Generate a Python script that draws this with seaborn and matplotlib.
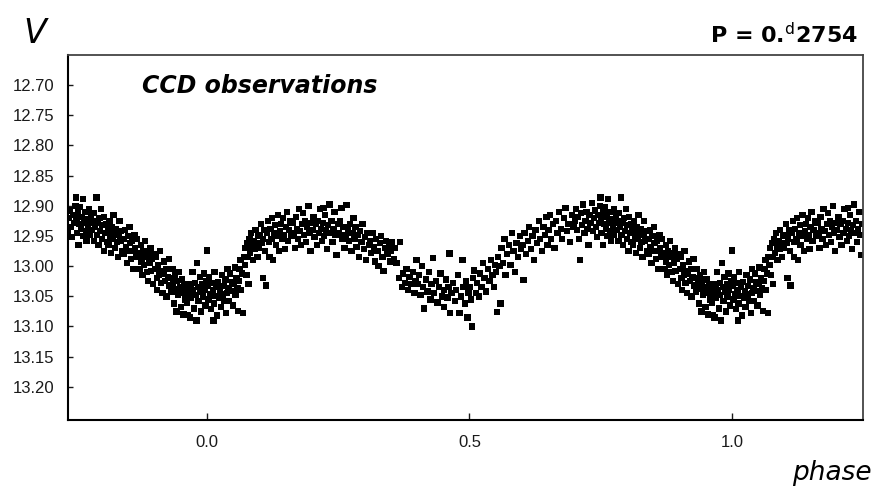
import numpy as np
import pandas as pd
import matplotlib
matplotlib.use("Agg")
import matplotlib.pyplot as plt
import seaborn as sns

# ---- data: (phase, V magnitude), phase in [0, 1) ----
seg_a = [  # phase 0.00 - 0.25
    (0.000, 12.974), (0.001, 13.032), (0.003, 13.055), (0.004, 13.018), (0.006, 13.046), (0.008, 13.071),
    (0.009, 13.028), (0.011, 13.040), (0.012, 13.090), (0.013, 13.062), (0.014, 13.010), (0.016, 13.049),
    (0.018, 13.035), (0.019, 13.082), (0.021, 13.026), (0.023, 13.052), (0.025, 13.041), (0.026, 13.068),
    (0.028, 13.015), (0.030, 13.047), (0.031, 13.033), (0.033, 13.058), (0.035, 13.022), (0.036, 13.078),
    (0.038, 13.044), (0.039, 13.005), (0.041, 13.036), (0.042, 13.058), (0.044, 13.012), (0.046, 13.041),
    (0.047, 13.027), (0.049, 13.065), (0.051, 13.030), (0.053, 13.002), (0.054, 13.048), (0.056, 13.020),
    (0.058, 13.037), (0.059, 13.074), (0.061, 13.025), (0.062, 13.005), (0.064, 12.990), (0.065, 13.040),
    (0.067, 13.012), (0.069, 13.078), (0.070, 12.985), (0.072, 12.998), (0.073, 12.970), (0.075, 13.015),
    (0.077, 12.962), (0.078, 12.985), (0.079, 13.030), (0.081, 12.955), (0.082, 12.978), (0.084, 12.945),
    (0.086, 12.968), (0.087, 12.990), (0.089, 12.958), (0.091, 12.972), (0.092, 12.940), (0.094, 12.962),
    (0.096, 12.985), (0.098, 12.950), (0.099, 12.970), (0.101, 12.948), (0.103, 12.930), (0.104, 12.962),
    (0.106, 13.020), (0.107, 12.955), (0.109, 12.940), (0.111, 12.975), (0.112, 13.032), (0.114, 12.945),
    (0.116, 12.925), (0.118, 12.960), (0.119, 12.985), (0.121, 12.938), (0.123, 12.955), (0.124, 12.920),
    (0.126, 12.990), (0.128, 12.945), (0.130, 12.932), (0.131, 12.965), (0.133, 12.950), (0.135, 12.915),
    (0.137, 12.975), (0.139, 12.942), (0.141, 12.930), (0.143, 12.955), (0.145, 12.920), (0.146, 12.948),
    (0.148, 12.972), (0.150, 12.935), (0.152, 12.910), (0.154, 12.958), (0.156, 12.940), (0.158, 12.925),
    (0.161, 12.950), (0.163, 12.928), (0.165, 12.945), (0.167, 12.970), (0.169, 12.918), (0.171, 12.938),
    (0.173, 12.955), (0.175, 12.905), (0.177, 12.942), (0.179, 12.965), (0.181, 12.930), (0.183, 12.912),
    (0.185, 12.948), (0.187, 12.925), (0.189, 12.960), (0.191, 12.935), (0.193, 12.900), (0.195, 12.945),
    (0.197, 12.975), (0.199, 12.928), (0.201, 12.940), (0.203, 12.918), (0.205, 12.952), (0.207, 12.930),
    (0.209, 12.965), (0.211, 12.925), (0.213, 12.945), (0.215, 12.905), (0.217, 12.938), (0.219, 12.958),
    (0.221, 12.928), (0.222, 12.904), (0.223, 12.950), (0.225, 12.915), (0.227, 12.940), (0.229, 12.972),
    (0.231, 12.932), (0.233, 12.898), (0.235, 12.945), (0.237, 12.925), (0.239, 12.960), (0.241, 12.938),
    (0.243, 12.910), (0.245, 12.948), (0.247, 12.982), (0.249, 12.930),
]
seg_b = [  # phase 0.25 - 0.50
    (0.251, 12.945), (0.253, 12.925), (0.256, 12.904), (0.258, 12.955), (0.260, 12.935), (0.262, 12.970),
    (0.264, 12.948), (0.266, 12.899), (0.268, 12.940), (0.270, 12.958), (0.272, 12.930), (0.275, 12.975),
    (0.277, 12.945), (0.279, 12.920), (0.281, 12.955), (0.283, 12.935), (0.285, 12.968), (0.287, 12.948),
    (0.290, 12.985), (0.292, 12.942), (0.294, 12.960), (0.296, 12.930), (0.299, 12.972), (0.301, 12.952),
    (0.303, 12.990), (0.306, 12.945), (0.308, 12.965), (0.311, 12.958), (0.313, 12.978), (0.315, 12.945),
    (0.318, 12.968), (0.320, 12.992), (0.322, 12.955), (0.325, 12.975), (0.327, 13.000), (0.329, 12.962),
    (0.332, 12.950), (0.334, 12.985), (0.336, 13.008), (0.339, 12.970), (0.341, 12.958), (0.344, 12.980),
    (0.347, 12.965), (0.349, 12.992), (0.351, 12.975), (0.353, 12.960), (0.356, 12.988), (0.358, 12.970),
    (0.361, 12.995), (0.366, 13.020), (0.368, 12.960), (0.371, 13.035), (0.374, 13.012), (0.377, 13.028),
    (0.380, 13.005), (0.383, 13.040), (0.386, 13.018), (0.389, 13.030), (0.392, 13.010), (0.395, 13.045),
    (0.397, 13.025), (0.399, 12.990), (0.401, 13.030), (0.404, 13.015), (0.407, 13.048), (0.410, 13.000),
    (0.412, 13.035), (0.414, 13.070), (0.417, 13.022), (0.420, 13.042), (0.423, 13.010), (0.426, 13.055),
    (0.428, 13.030), (0.430, 12.987), (0.433, 13.045), (0.436, 13.025), (0.439, 13.060), (0.442, 13.035),
    (0.445, 13.012), (0.448, 13.050), (0.451, 13.040), (0.452, 13.068), (0.455, 13.022), (0.458, 13.052),
    (0.460, 13.035), (0.462, 12.979), (0.463, 13.078), (0.466, 13.045), (0.469, 13.028), (0.472, 13.058),
    (0.475, 13.040), (0.478, 13.015), (0.481, 13.078), (0.484, 13.050), (0.487, 12.990), (0.489, 13.035),
    (0.492, 13.062), (0.494, 13.025), (0.496, 13.085), (0.498, 13.045),
]
seg_c = [  # phase 0.50 - 0.75
    (0.501, 13.035), (0.503, 13.055), (0.505, 13.100), (0.507, 13.020), (0.509, 13.007), (0.512, 13.045),
    (0.515, 13.028), (0.518, 13.050), (0.520, 13.012), (0.523, 13.035), (0.526, 12.995), (0.529, 13.020),
    (0.532, 13.042), (0.535, 13.005), (0.538, 13.025), (0.541, 12.990), (0.544, 13.015), (0.547, 13.035),
    (0.549, 12.998), (0.551, 13.010), (0.553, 13.076), (0.555, 12.985), (0.557, 13.000), (0.559, 13.062),
    (0.561, 12.970), (0.564, 12.995), (0.567, 12.955), (0.569, 13.015), (0.572, 12.980), (0.575, 12.965),
    (0.578, 12.998), (0.581, 12.945), (0.584, 12.975), (0.587, 13.010), (0.590, 12.962), (0.593, 12.985),
    (0.596, 12.950), (0.598, 12.972), (0.601, 12.965), (0.603, 13.023), (0.605, 12.945), (0.608, 12.980),
    (0.611, 12.958), (0.614, 12.935), (0.617, 12.972), (0.620, 12.950), (0.623, 12.990), (0.626, 12.940),
    (0.629, 12.962), (0.632, 12.925), (0.635, 12.955), (0.638, 12.975), (0.641, 12.935), (0.644, 12.948),
    (0.647, 12.918), (0.649, 12.965), (0.651, 12.940), (0.653, 12.915), (0.656, 12.955), (0.659, 12.930),
    (0.662, 12.970), (0.665, 12.925), (0.668, 12.945), (0.671, 12.910), (0.674, 12.938), (0.677, 12.955),
    (0.680, 12.920), (0.683, 12.904), (0.686, 12.942), (0.689, 12.930), (0.692, 12.960), (0.695, 12.915),
    (0.698, 12.935), (0.701, 12.925), (0.703, 12.905), (0.705, 12.940), (0.707, 12.918), (0.709, 12.955),
    (0.711, 12.990), (0.713, 12.912), (0.715, 12.932), (0.717, 12.898), (0.719, 12.945), (0.721, 12.925),
    (0.723, 12.910), (0.725, 12.938), (0.727, 12.965), (0.729, 12.915), (0.731, 12.928), (0.733, 12.895),
    (0.735, 12.942), (0.737, 12.920), (0.739, 12.908), (0.741, 12.935), (0.743, 12.952), (0.745, 12.915),
    (0.747, 12.928), (0.749, 12.900),
]
seg_d = [  # phase 0.75 - 1.00
    (0.750, 12.886), (0.751, 12.920), (0.752, 12.945), (0.754, 12.910), (0.755, 12.965), (0.757, 12.930),
    (0.758, 12.902), (0.760, 12.938), (0.761, 12.918), (0.763, 12.950), (0.764, 12.889), (0.766, 12.928),
    (0.767, 12.910), (0.769, 12.942), (0.770, 12.958), (0.772, 12.922), (0.773, 12.935), (0.775, 12.905),
    (0.776, 12.948), (0.778, 12.928), (0.779, 12.915), (0.781, 12.940), (0.782, 12.925), (0.784, 12.958),
    (0.785, 12.912), (0.787, 12.935), (0.789, 12.886), (0.790, 12.948), (0.792, 12.928), (0.793, 12.965),
    (0.795, 12.920), (0.796, 12.942), (0.798, 12.905), (0.800, 12.955), (0.801, 12.932), (0.803, 12.975),
    (0.804, 12.918), (0.806, 12.945), (0.808, 12.930), (0.809, 12.960), (0.811, 12.940), (0.812, 12.965),
    (0.814, 12.925), (0.815, 12.950), (0.817, 12.978), (0.819, 12.935), (0.820, 12.955), (0.822, 12.915),
    (0.823, 12.945), (0.825, 12.970), (0.827, 12.938), (0.828, 12.960), (0.830, 12.985), (0.832, 12.948),
    (0.833, 12.925), (0.835, 12.958), (0.836, 12.942), (0.838, 12.975), (0.841, 12.955), (0.842, 12.980),
    (0.844, 12.940), (0.845, 12.968), (0.847, 12.995), (0.849, 12.950), (0.850, 12.975), (0.852, 12.935),
    (0.853, 12.962), (0.855, 12.988), (0.857, 12.958), (0.858, 12.975), (0.860, 13.005), (0.862, 12.948),
    (0.863, 12.970), (0.865, 12.985), (0.866, 12.955), (0.868, 12.978), (0.871, 12.982), (0.872, 13.005),
    (0.874, 12.965), (0.875, 12.992), (0.877, 13.015), (0.879, 12.975), (0.880, 12.998), (0.882, 12.958),
    (0.883, 12.985), (0.885, 13.010), (0.887, 12.978), (0.888, 13.025), (0.890, 12.995), (0.892, 12.970),
    (0.893, 13.008), (0.895, 12.988), (0.897, 13.030), (0.898, 12.980), (0.901, 13.005), (0.902, 12.985),
    (0.904, 13.020), (0.905, 13.040), (0.907, 12.998), (0.909, 13.015), (0.910, 12.975), (0.912, 13.028),
    (0.913, 13.008), (0.915, 13.045), (0.917, 13.012), (0.918, 12.992), (0.920, 13.025), (0.922, 13.005),
    (0.923, 13.050), (0.925, 13.018), (0.927, 12.988), (0.928, 13.032), (0.931, 13.020), (0.932, 13.042),
    (0.934, 13.005), (0.935, 13.030), (0.937, 13.062), (0.939, 13.015), (0.940, 13.038), (0.942, 13.075),
    (0.943, 13.025), (0.945, 13.048), (0.947, 13.010), (0.948, 13.035), (0.950, 13.068), (0.952, 13.022),
    (0.953, 13.045), (0.955, 13.080), (0.957, 13.030), (0.958, 13.055), (0.961, 13.038), (0.962, 13.060),
    (0.964, 13.081), (0.965, 13.045), (0.967, 13.085), (0.969, 13.030), (0.970, 13.052), (0.972, 13.010),
    (0.973, 13.040), (0.975, 13.070), (0.977, 13.028), (0.978, 13.048), (0.980, 13.090), (0.981, 12.995),
    (0.983, 13.035), (0.984, 13.058), (0.986, 13.018), (0.987, 13.042), (0.989, 13.075), (0.991, 13.030),
    (0.992, 13.050), (0.994, 13.012), (0.995, 13.040), (0.997, 13.065), (0.999, 13.025),
]

y_ticks = [12.70, 12.75, 12.80, 12.85, 12.90, 12.95, 13.00, 13.05, 13.10, 13.15, 13.20]
x_ticks = [0.0, 0.5, 1.0]
x_tick_labels = ["0.0", "0.5", "1.0"]
x_range = (-0.265, 1.25)
y_range = (13.255, 12.65)

# ---- build the phased table (each point also shown one cycle earlier/later inside the window) ----
base = pd.DataFrame(seg_a + seg_b + seg_c + seg_d, columns=["phase", "mag"])
frames = [base]
for shift in (-1.0, 1.0):
    sh = base.assign(phase=base["phase"] + shift)
    frames.append(sh[(sh["phase"] >= x_range[0]) & (sh["phase"] <= x_range[1])])
df = pd.concat(frames, ignore_index=True)

sns.set_style("white")
plt.rcParams["font.family"] = ["DejaVu Sans"]
plt.rcParams["text.color"] = "black"

fig = plt.figure(figsize=(8.77, 4.86), dpi=100)
ax = fig.add_axes([68 / 877, 66 / 486, (863 - 68) / 877, (420 - 55) / 486])

sns.scatterplot(data=df, x="phase", y="mag", marker="s", s=21, color="black",
                edgecolor="none", linewidth=0, ax=ax, legend=False)

ax.set_xlim(*x_range)
ax.set_ylim(*y_range)
ax.set_xticks(x_ticks)
ax.set_xticklabels(x_tick_labels)
ax.set_yticks(y_ticks)
ax.set_yticklabels([f"{v:.2f}" for v in y_ticks])
ax.set_xlabel("")
ax.set_ylabel("")

for lab in ax.get_xticklabels() + ax.get_yticklabels():
    lab.set_fontfamily(["Liberation Sans", "DejaVu Sans"])
    lab.set_fontsize(12)

ax.tick_params(axis="y", direction="in", length=3.5, width=1, pad=10, left=True, right=False,
               colors="#1a1a1a")
ax.tick_params(axis="x", direction="in", length=5, width=1, pad=11, bottom=True, top=False,
               colors="#1a1a1a")

for side in ("left", "bottom"):
    ax.spines[side].set_color("black")
    ax.spines[side].set_linewidth(1.5)
for side in ("top", "right"):
    ax.spines[side].set_color("#444444")
    ax.spines[side].set_linewidth(1.3)

fig.text(23 / 877, 1 - 43 / 486, "V", fontsize=24, fontstyle="italic", color="black",
         ha="left", va="baseline")
fig.text(142 / 877, 1 - 93 / 486, "CCD observations", fontsize=17, fontweight="bold",
         fontstyle="italic", color="black", ha="left", va="baseline")
fig.text(858 / 877, 1 - 43 / 486, r"P = 0.$^{\rm d}$2754", fontsize=16, fontweight="bold",
         color="black", ha="right", va="baseline")
fig.text(872 / 877, 1 - 480 / 486, "phase", fontsize=19, fontstyle="italic", color="black",
         ha="right", va="baseline")

fig.savefig("out.png", dpi=100)
